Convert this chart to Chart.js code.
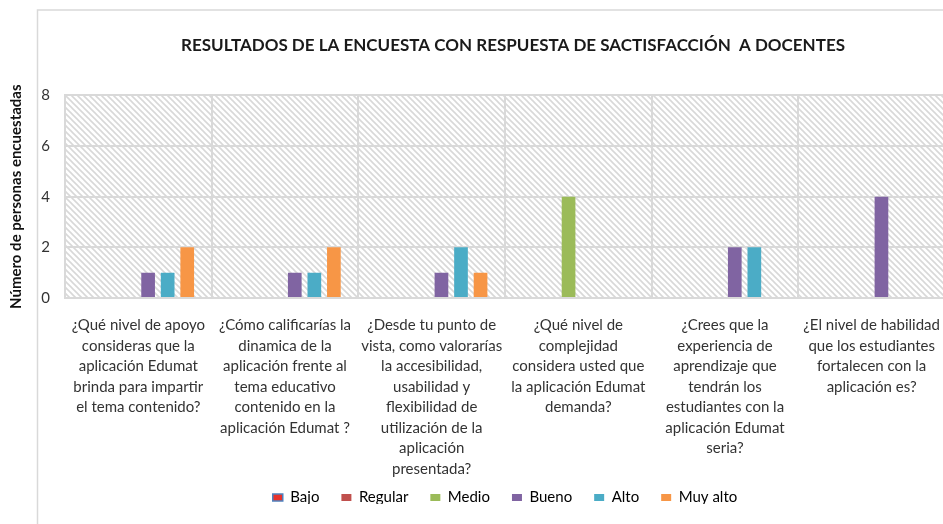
<!DOCTYPE html>
<html>
<head>
<meta charset="utf-8">
<script src="https://cdn.jsdelivr.net/npm/chart.js@4/dist/chart.umd.min.js"></script>
<style>
html,body{margin:0;padding:0;background:#fff;overflow:hidden;}
#wrap{width:943px;height:524px;overflow:hidden;position:relative;}
canvas{display:block;}
</style>
</head>
<body>
<div id="wrap"><canvas id="c" width="1026" height="524"></canvas></div>
<script>
const categories = [
  ["¿Qué nivel de apoyo", "consideras que la", "aplicación Edumat", "brinda para impartir", "el tema contenido?"],
  ["¿Cómo calificarías la", "dinamica de la", "aplicación frente al", "tema educativo", "contenido en la", "aplicación Edumat ?"],
  ["¿Desde tu punto de", "vista, como valorarías", "la accesibilidad,", "usabilidad y", "flexibilidad de", "utilización de la", "aplicación", "presentada?"],
  ["¿Qué nivel de", "complejidad", "considera usted que", "la aplicación Edumat", "demanda?"],
  ["¿Crees que la", "experiencia de", "aprendizaje que", "tendrán los", "estudiantes con la", "aplicación Edumat", "seria?"],
  ["¿El nivel de habilidad", "que los estudiantes", "fortalecen con la", "aplicación es?"]
];
const seriesNames = ["Bajo", "Regular", "Medio", "Bueno", "Alto", "Muy alto"];
const bajo     = [0, 0, 0, 0, 0, 0];
const regular  = [0, 0, 0, 0, 0, 0];
const medio    = [0, 0, 0, 4, 0, 0];
const bueno    = [1, 1, 1, 0, 2, 4];
const alto     = [1, 1, 2, 0, 2, 0];
const muyAlto  = [2, 2, 1, 0, 0, 0];
const yTicks = [0, 2, 4, 6, 8];
const chartTitle = "RESULTADOS DE LA ENCUESTA CON RESPUESTA DE SACTISFACCIÓN  A DOCENTES";
const yTitle = "Número de personas encuestadas";

const seriesValues = [bajo, regular, medio, bueno, alto, muyAlto];
const fills = ["#E8322B", "#C0504D", "#9BBB59", "#8064A2", "#4BACC6", "#F79646"];
const borders = ["#4F81BD", "#C0504D", "#9BBB59", "#8064A2", "#4BACC6", "#F79646"];

function makePattern(ctx) {
  const s = 6;
  const pc = document.createElement('canvas');
  pc.width = s; pc.height = s;
  const p = pc.getContext('2d');
  p.fillStyle = '#ffffff';
  p.fillRect(0, 0, s, s);
  p.strokeStyle = '#d8d8d8';
  p.lineWidth = 1.6;
  for (const c of [-s, 0, s]) {
    p.beginPath();
    p.moveTo(-1, -1 + c);
    p.lineTo(s + 1, s + 1 + c);
    p.stroke();
  }
  return ctx.createPattern(pc, 'repeat');
}

const bgPlugin = {
  id: 'bg',
  afterLayout(chart) {
    const l = chart.legend;
    if (l) {
      const d = 468 - l.top;
      l.top += d;
      l.bottom += d;
    }
  },
  beforeDraw(chart) {
    const ctx = chart.ctx;
    const a = chart.chartArea;
    ctx.save();
    ctx.fillStyle = '#ffffff';
    ctx.fillRect(0, 0, chart.width, chart.height);
    ctx.strokeStyle = '#d9d9d9';
    ctx.lineWidth = 1.5;
    ctx.strokeRect(37.5, 10, 950, 600);
    ctx.fillStyle = makePattern(ctx);
    ctx.fillRect(a.left, a.top, a.right - a.left, a.bottom - a.top);
    ctx.restore();
  }
};

const ds = seriesNames.map((n, i) => ({
  label: n,
  data: seriesValues[i],
  backgroundColor: fills[i],
  borderColor: borders[i],
  borderWidth: i === 0 ? 1.5 : 0,
  yAxisID: 'y'
}));

Chart.defaults.font.family = "Lato, 'Open Sans', sans-serif";
Chart.defaults.color = '#333333';

new Chart(document.getElementById('c'), {
  type: 'bar',
  data: { labels: categories, datasets: ds },
  options: {
    responsive: false,
    animation: false,
    devicePixelRatio: 1,
    datasets: { bar: { categoryPercentage: 0.8, barPercentage: 0.7 } },
    layout: { padding: { top: 0, bottom: 0, left: 0, right: 0 } },
    plugins: {
      title: {
        display: true,
        text: chartTitle,
        color: '#1a1a1a',
        font: { size: 17, weight: 'bold', family: "Lato, sans-serif" },
        padding: { top: 35, bottom: 40 }
      },
      legend: {
        position: 'bottom',
        fullSize: false,
        maxHeight: 36,
        labels: {
          boxWidth: 10,
          boxHeight: 7,
          padding: 22,
          color: '#333333',
          font: { size: 15 },
          generateLabels(chart) {
            return chart.data.datasets.map((d, i) => ({
              text: d.label,
              fillStyle: fills[i],
              strokeStyle: borders[i],
              lineWidth: i === 0 ? 1.5 : 0,
              datasetIndex: i,
              hidden: false
            }));
          }
        }
      },
      tooltip: { enabled: false }
    },
    scales: {
      x: {
        afterFit(s) { s.height = 190; },
        grid: { color: '#d9d9d9', lineWidth: 2, drawTicks: false, offset: true },
        border: { display: true, color: '#d9d9d9', width: 2 },
        ticks: {
          autoSkip: false,
          maxRotation: 0,
          minRotation: 0,
          padding: 17,
          color: '#333333',
          font: { size: 15, lineHeight: 1.367 }
        }
      },
      y: {
        position: 'left',
        min: 0,
        max: 8,
        afterFit(s) { s.width = 65; },
        afterBuildTicks(s) { s.ticks = yTicks.map(v => ({ value: v })); },
        grid: { color: '#d9d9d9', lineWidth: 2, drawTicks: false },
        border: { display: true, color: '#d9d9d9', width: 2 },
        ticks: { padding: 15, color: '#333333', font: { size: 15 } },
        title: {
          display: true,
          text: yTitle,
          color: '#111111',
          font: { size: 15, weight: 'bold' },
          padding: { top: 7, bottom: 0 }
        }
      },
      y2: {
        position: 'right',
        display: true,
        min: 0,
        max: 8,
        afterFit(s) { s.width = 81; },
        grid: { display: false, drawTicks: false },
        border: { display: false },
        ticks: { display: false }
      }
    }
  },
  plugins: [bgPlugin]
});
</script>
</body>
</html>
